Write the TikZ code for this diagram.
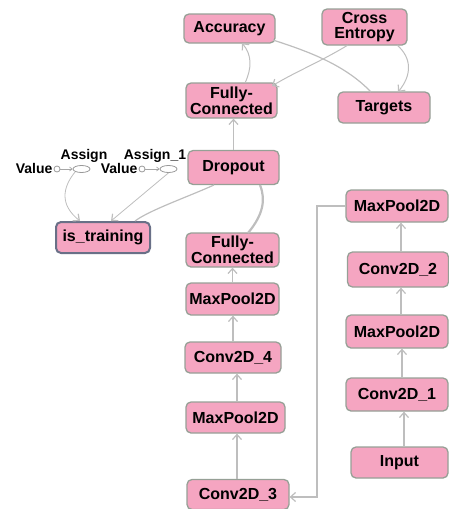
\documentclass[tikz,border=0pt]{standalone}
\usepackage{fontspec}
\setmainfont{Liberation Sans}
\usetikzlibrary{arrows.meta,shapes.geometric}
\definecolor{nodepink}{RGB}{245,165,193}
\definecolor{nodeline}{RGB}{150,160,150}
\definecolor{edgegray}{RGB}{190,190,190}
\definecolor{istrain}{RGB}{105,112,135}
\tikzset{
  opbox/.style={draw=nodeline, line width=1.3pt, fill=nodepink, rounded corners=5pt,
    inner sep=0pt, align=center, font=\fontsize{16}{14.5}\selectfont\bfseries},
  edge/.style={draw=edgegray, line width=1.4pt},
  arr/.style={edge, -{Straight Barb[length=5pt,width=9pt,line width=1.2pt]}},
  small/.style={font=\fontsize{14}{14}\selectfont\bfseries, inner sep=0pt},
  tinycirc/.style={circle, draw=gray!80, line width=0.8pt, minimum size=6pt, inner sep=0pt},
  tinyell/.style={ellipse, draw=gray!80, line width=0.8pt, minimum width=17pt, minimum height=7pt, inner sep=0pt},
}
\begin{document}
\begin{tikzpicture}[x=1pt,y=-1pt]
\useasboundingbox (0,0) rectangle (449,509);
% top nodes
\node[opbox, minimum width=91pt, minimum height=29pt] (acc) at (229.5,28.5) {Accuracy};
\node[opbox, minimum width=85pt, minimum height=36pt] (ce) at (364.5,27) {Cross\\Entropy};
\node[opbox, minimum width=91pt, minimum height=35pt] (fc1) at (231.5,100.5) {Fully-\\Connected};
\node[opbox, minimum width=92pt, minimum height=31pt] (tg) at (384,107.5) {Targets};
\node[opbox, minimum width=91pt, minimum height=34pt] (drop) at (233.5,167.5) {Dropout};
\node[opbox, draw=istrain, line width=2pt, minimum width=94pt, minimum height=31pt] (istr) at (103,237.5) {is\_training};
% left chain
\node[opbox, minimum width=93pt, minimum height=34pt] (fc2) at (232.5,250) {Fully-\\Connected};
\node[opbox, minimum width=93pt, minimum height=32pt] (mpa) at (232.5,299) {MaxPool2D};
\node[opbox, minimum width=96pt, minimum height=31pt] (c4) at (233,357.5) {Conv2D\_4};
\node[opbox, minimum width=99pt, minimum height=31pt] (mpb) at (235.5,417.5) {MaxPool2D};
\node[opbox, minimum width=102pt, minimum height=30pt] (c3) at (238,494.5) {Conv2D\_3};
% right chain
\node[opbox, minimum width=102pt, minimum height=32pt] (mpc) at (397,206) {MaxPool2D};
\node[opbox, minimum width=101pt, minimum height=35pt] (c2) at (398,269.5) {Conv2D\_2};
\node[opbox, minimum width=102pt, minimum height=33pt] (mpd) at (397,331.5) {MaxPool2D};
\node[opbox, minimum width=102pt, minimum height=33pt] (c1) at (397,394.5) {Conv2D\_1};
\node[opbox, minimum width=97pt, minimum height=31pt] (inp) at (399.5,462.5) {Input};
% assign nodes
\node[tinycirc] (v1) at (57,169) {};
\node[small, anchor=east] (v1l) at (v1.west) [xshift=-1pt, yshift=1pt] {Value};
\node[tinyell] (as1) at (81.5,169) {};
\node[small] (as1l) at (84,155.5) {Assign};
\node[tinycirc] (v2) at (142,169) {};
\node[small, anchor=east] (v2l) at (v2.west) [xshift=-1pt, yshift=1pt] {Value};
\node[tinyell] (as2) at (168.5,169) {};
\node[small] (as2l) at (155,155.5) {Assign\_1};
\draw[draw=gray!70, line width=0.7pt, -{Straight Barb[length=2.5pt,width=4pt]}] (v1) -- (as1);
\draw[draw=gray!70, line width=0.7pt, -{Straight Barb[length=2.5pt,width=4pt]}] (v2) -- (as2);
% edges to is_training
\coordinate (it1) at (80,221);
\coordinate (it2) at (111,221);
\coordinate (it3) at (135,221);
\coordinate (d1) at (214,185);
\coordinate (d2) at (260,185);
\coordinate (f2) at (248,233);
\draw[arr, line width=0.8pt] (as1.south west) .. controls (62,188) and (60,205) .. (it1);
\draw[arr, line width=0.8pt] (as2.south) -- (it2);
\draw[edge, line width=1.2pt] (d1) .. controls (185,198) and (150,210) .. (it3);
% dropout to fc2
\draw[edge, line width=2.2pt] (d2) .. controls (266,200) and (263,215) .. (f2);
% top edges
\coordinate (fa) at (245,83);
\coordinate (aa) at (242,43);
\coordinate (cf) at (348,45);
\coordinate (fc) at (272,86);
\coordinate (at) at (273,40);
\coordinate (ta) at (371,92);
\coordinate (ct) at (397,45);
\coordinate (tc) at (398,92);
\draw[arr] (drop.north) -- (fc1.south -| drop.north);
\draw[arr, line width=1pt] (fa) .. controls (252,68) and (252,55) .. (aa);
\draw[arr, line width=1pt] (cf) .. controls (320,62) and (295,72) .. (fc);
\draw[edge, line width=1.2pt] (at) .. controls (310,52) and (345,65) .. (ta);
\draw[arr, line width=1pt] (ct) .. controls (412,58) and (412,75) .. (tc);
% left chain arrows
\draw[arr] (mpa.north) -- (fc2.south);
\draw[arr] (c4.north) -- (c4.north |- mpa.south);
\draw[arr] (mpb.north -| 237,0) -- (c4.south -| 237,0);
\draw[arr] (c3.north -| 237,0) -- (mpb.south -| 237,0);
% right chain arrows
\draw[arr] (c2.north -| 401,0) -- (mpc.south -| 401,0);
\draw[arr] (mpd.north -| 401,0) -- (c2.south -| 401,0);
\draw[arr] (c1.north -| 402,0) -- (mpd.south -| 402,0);
\draw[arr] (inp.north -| 404,0) -- (c1.south -| 404,0);
% elbow
\draw[arr] (mpc.west) -- (317,206) -- (317,497) -- (c3.east |- 0,497);
\end{tikzpicture}
\end{document}
